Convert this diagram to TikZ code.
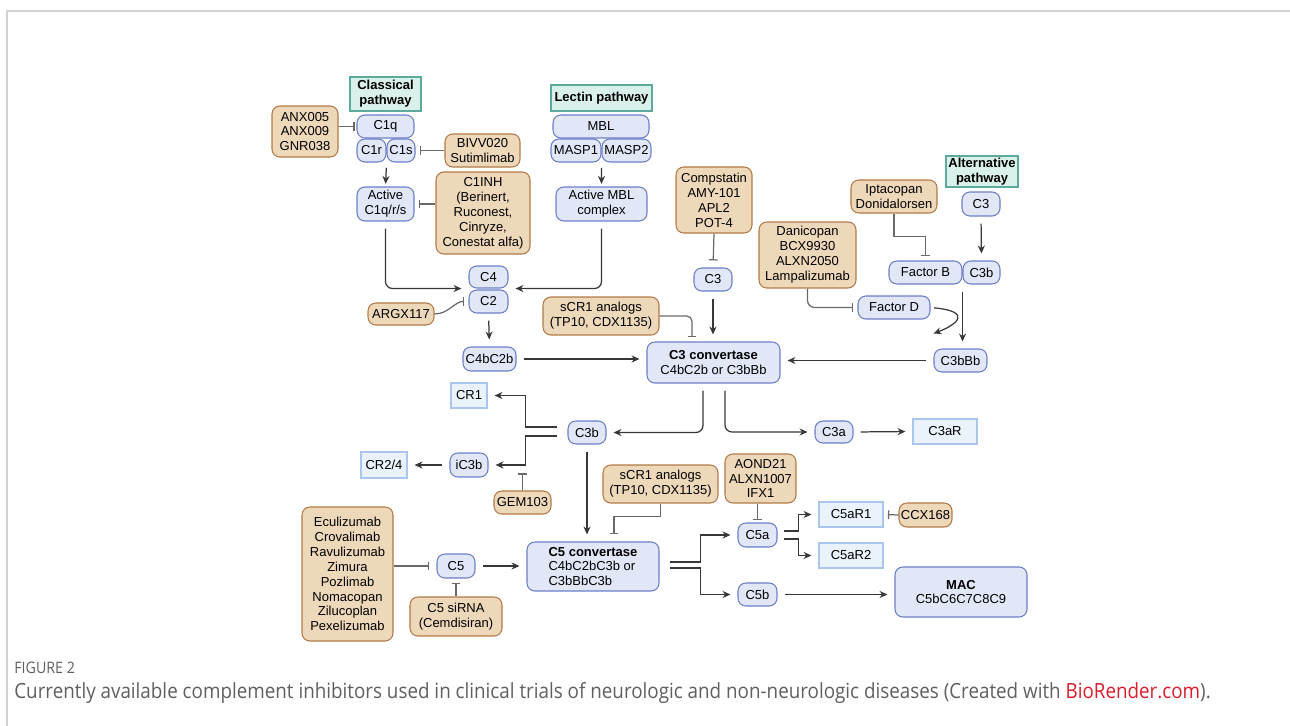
\documentclass[tikz,border=0pt]{standalone}
\usepackage{fontspec}
\setmainfont{Liberation Sans}
\newfontfamily\capfont[FakeStretch=0.9]{Open Sans}
\usepackage{tikz}
\usetikzlibrary{arrows.meta, calc}
\definecolor{cfill}{RGB}{226,231,248}
\definecolor{cedge}{RGB}{108,126,200}
\definecolor{dfill}{RGB}{238,216,186}
\definecolor{dedge}{RGB}{178,122,72}
\definecolor{pfill}{RGB}{218,240,234}
\definecolor{pedge}{RGB}{92,170,156}
\definecolor{rfill}{RGB}{234,242,252}
\definecolor{redge}{RGB}{170,198,238}
\definecolor{lgray}{RGB}{55,55,55}
\definecolor{igray}{RGB}{105,105,105}
\definecolor{capgray}{RGB}{95,95,95}
\definecolor{biored}{RGB}{215,30,45}
\newcommand{\nodefont}{\fontsize{7.4}{8.5}\selectfont}
\tikzset{
>={Stealth[length=4.5pt,width=4pt]}, % small filled arrow heads
sz/.style 2 args={minimum width=#1*0.02cm, minimum height=#2*0.02cm}, % box size in pixels
cnode/.style={draw=cedge, fill=cfill, rounded corners=4.5pt, line width=0.6pt, align=center, inner sep=1pt, font=\nodefont}, % complement proteins
drug/.style={draw=dedge, fill=dfill, rounded corners=4.5pt, line width=0.6pt, align=center, inner sep=1pt, font=\nodefont}, % inhibitors
pathway/.style={draw=pedge, fill=pfill, line width=0.6pt, align=center, inner sep=1pt, font=\nodefont\bfseries}, % pathway headers
rcpt/.style={draw=redge, fill=rfill, line width=0.6pt, align=center, inner sep=1pt, font=\nodefont}, % receptors
arr/.style={->, draw=lgray, line width=0.7pt, shorten <=4pt, shorten >=4pt}, % activation
inh/.style={-{Bar[width=5pt]}, draw=igray, line width=0.7pt, shorten >=2.5pt}, % inhibition
}

\begin{document}
\begin{tikzpicture}[x=0.02cm, y=-0.02cm]
\useasboundingbox (0,0) rectangle (1290,726);
\draw[black!18, line width=1.1pt] (7,726) -- (7,11) -- (1290,11);

% pathway headers
\node[pathway, sz={71}{34}] (hdcl) at (385.5,94) {Classical\\pathway};
\node[pathway, sz={101}{26}] (hdle) at (601.5,98) {Lectin pathway};
\node[pathway, sz={72}{31}] (hdal) at (982,171.5) {Alternative\\pathway};

% classical and lectin
\node[cnode, sz={57}{23}] (c1q) at (385.5,126.5) {C1q};
\node[cnode, sz={29}{23}] (c1r) at (371.5,150.5) {C1r};
\node[cnode, sz={28}{23}] (c1s) at (401,150.5) {C1s};
\node[cnode, sz={57}{34}] (actc1) at (385.5,204) {Active\\C1q/r/s};
\node[cnode, sz={96}{23}] (mbl) at (601,126.5) {MBL};
\node[cnode, sz={50}{23}] (masp1) at (576,150.5) {MASP1};
\node[cnode, sz={49}{23}] (masp2) at (626.5,150.5) {MASP2};
\node[cnode, sz={91}{34}] (actmbl) at (601.5,204) {Active MBL\\complex};
\node[cnode, sz={39}{22}] (c4) at (488.5,277) {C4};
\node[cnode, sz={39}{23}] (c2) at (488.5,301.5) {C2};
\node[cnode, sz={53}{24}] (c4bc2b) at (489.5,359) {C4bC2b};

% alternative
\node[cnode, sz={38}{23}] (c3top) at (713,279.5) {C3};
\node[cnode, sz={38}{24}] (c3alt) at (981,204) {C3};
\node[cnode, sz={73}{23}] (fb) at (925.5,272.5) {Factor B};
\node[cnode, sz={37}{23}] (c3balt) at (981.5,272.5) {C3b};
\node[cnode, sz={72}{23}] (fd) at (894,307.5) {Factor D};
\node[cnode, sz={53}{23}] (c3bbb) at (960.5,360.5) {C3bBb};

% convertases and products
\node[cnode, sz={133}{41}] (c3conv) at (713.5,362.5) {\textbf{C3 convertase}\\C4bC2b or C3bBb};
\node[cnode, sz={38}{23}] (c3b) at (587,432.5) {C3b};
\node[cnode, sz={38}{24}] (ic3b) at (469,465) {iC3b};
\node[cnode, sz={38}{22}] (c3a) at (834,432) {C3a};
\node[cnode, sz={38}{24}] (c5) at (456,566) {C5};
\node[cnode, sz={132}{49}, align=left] (c5conv) at (593,566.5) {\textbf{C5 convertase}\\C4bC2bC3b or\\C3bBbC3b};
\node[cnode, sz={39}{24}] (c5a) at (757.5,535) {C5a};
\node[cnode, sz={39}{23}] (c5b) at (757.5,594.5) {C5b};
\node[cnode, sz={132}{50}] (mac) at (961,592) {\textbf{MAC}\\C5bC6C7C8C9};

% receptors
\node[rcpt, sz={36}{25}] (cr1) at (469,395.5) {CR1};
\node[rcpt, sz={46}{26}] (cr24) at (384,465) {CR2/4};
\node[rcpt, sz={64}{25}] (c3ar) at (945,431.5) {C3aR};
\node[rcpt, sz={64}{25}] (c5ar1) at (851,514.5) {C5aR1};
\node[rcpt, sz={64}{25}] (c5ar2) at (851,555.5) {C5aR2};

% inhibitors
\node[drug, sz={66}{51}] (anx) at (305,131.5) {ANX005\\ANX009\\GNR038};
\node[drug, sz={75}{33}] (bivv) at (482.5,150.5) {BIVV020\\Sutimlimab};
\node[drug, sz={94}{82}] (c1inh) at (483,213) {C1INH\\(Berinert,\\Ruconest,\\Cinryze,\\Conestat alfa)};
\node[drug, sz={76}{66}] (compst) at (714,200) {Compstatin\\AMY-101\\APL2\\POT-4};
\node[drug, sz={86}{33}] (ipta) at (894,196.5) {Iptacopan\\Donidalorsen};
\node[drug, sz={97}{66}] (dani) at (807.5,255) {Danicopan\\BCX9930\\ALXN2050\\Lampalizumab};
\node[drug, sz={66}{22}] (argx) at (401,314) {ARGX117};
\node[drug, sz={116}{38}] (scra) at (601,316) {sCR1 analogs\\(TP10, CDX1135)};
\node[drug, sz={57}{23}] (gem) at (522.5,502.5) {GEM103};
\node[drug, sz={115}{38}] (scrb) at (660.5,484) {sCR1 analogs\\(TP10, CDX1135)};
\node[drug, sz={71}{49}] (aond) at (760.5,478.5) {AOND21\\ALXN1007\\IFX1};
\node[drug, sz={53}{24}] (ccx) at (925.5,515) {CCX168};
\node[drug, sz={91}{134}] (ecu) at (347.5,574) {Eculizumab\\Crovalimab\\Ravulizumab\\Zimura\\Pozlimab\\Nomacopan\\Zilucoplan\\Pexelizumab};
\node[drug, sz={92}{39}] (sirna) at (456,616.5) {C5 siRNA\\(Cemdisiran)};

% split points and free ends
\coordinate (c3bup) at ($(c3b.west)+(-10,-5.5)$);
\coordinate (c3bdn) at ($(c3b.west)+(-10,3.5)$);
\coordinate (c5cup) at ($(c5conv.east)+(10,-4.5)$);
\coordinate (c5cdn) at ($(c5conv.east)+(10,1.5)$);
\coordinate (c5aup) at ($(c5a.east)+(6,-4)$);
\coordinate (c5adn) at ($(c5a.east)+(6,4)$);
\coordinate (fdend) at ($(fd.east)+(3,26)$);

% activation
\draw[arr, shorten <=3pt, shorten >=1.5pt] (c1r.south east) -- (actc1.north);
\draw[arr, shorten <=3pt, shorten >=1.5pt] (masp1.south east) -- (actmbl.north);
\draw[arr, rounded corners=4pt] (actc1.south) |- (c4.south west);
\draw[arr, rounded corners=4pt] (actmbl.south) |- (c4.south east);
\draw[arr] (c2.south) -- (c4bc2b.north);
\draw[arr] (c4bc2b.east) -- (c4bc2b.east -| c3conv.west);
\draw[arr] (c3top.south) -- (c3top.south |- c3conv.north);
\draw[arr] (c3alt.south) -- (c3balt.north);
\draw[arr] (fb.south east) -- (fb.south east |- c3bbb.north);
\draw[arr, shorten <=2pt, shorten >=0pt] (fd.east) .. controls +(42,4) and +(24,-9) .. (fdend);
\draw[arr] (c3bbb.west) -- (c3bbb.west -| c3conv.east);
\draw[arr, rounded corners=4pt] ($(c3conv.south)+(-10.5,0)$) |- (c3b.east);
\draw[arr, rounded corners=4pt] ($(c3conv.south)+(11.5,0)$) |- (c3a.west);
\draw[arr] (c3a.east) -- (c3ar.west);
\draw[arr, shorten <=0pt] (c3bup) -- ++(-32,0) |- (cr1.east);
\draw[arr, shorten <=0pt] (c3bdn) -- ++(-32,0) |- (ic3b.east);
\draw[arr] (ic3b.west) -- (cr24.east);
\draw[arr] (c3b.south) -- (c3b.south |- c5conv.north);
\draw[arr] (c5.east) -- (c5.east -| c5conv.west);
\draw[arr, shorten <=0pt] (c5cup) -- ++(31,0) |- (c5a.west);
\draw[arr, shorten <=0pt] (c5cdn) -- ++(31,0) |- (c5b.west);
\draw[arr, shorten <=0pt] (c5aup) -- ++(15,0) |- (c5ar1.west);
\draw[arr, shorten <=0pt] (c5adn) -- ++(15,0) |- (c5ar2.west);
\draw[arr] (c5b.east) -- (c5b.east -| mac.west);

% inhibition
\draw[inh, shorten >=1pt] (c1q.west -| anx.east) -- (c1q.west);
\draw[inh] (bivv.west) -- (bivv.west -| c1s.east);
\draw[inh] (c1inh.west |- actc1.east) -- (actc1.east);
\draw[inh] (argx.east) .. controls +(14,0) and +(-14,0) .. (c2.west);
\draw[inh, shorten >=4pt] (compst.south) -- (c3top.north);
\draw[inh, rounded corners=3pt] (scra.east) -| ($(c3conv.north)+(-21.5,0)$);
\draw[inh] (ipta.south) -- ++(0,23) -| (fb.north);
\draw[inh, rounded corners=4pt] (dani.south) |- (fd.west);
\draw[inh, shorten >=0pt] (gem.north) -- ++(0,-17);
\draw[inh, shorten >=4pt] (scrb.south) -- ++(0,13) -| ($(c5conv.north)+(21,0)$);
\draw[inh, shorten >=1.5pt] (c5a.north |- aond.south) -- (c5a.north);
\draw[inh] (ccx.west) -- (c5ar1.east);
\draw[inh, shorten >=4pt] (ecu.east |- c5.west) -- (c5.west);
\draw[inh] (sirna.north) -- (c5.south);

% caption
\node[anchor=west, inner sep=0, text=capgray, font=\capfont\fontsize{9}{10}\selectfont] (fignum) at (14,668) {FIGURE 2};
\node[anchor=west, inner sep=0, text=capgray, font=\capfont\fontsize{11.9}{14}\selectfont] (figcap) at (14,693) {Currently available complement inhibitors used in clinical trials of neurologic and non-neurologic diseases (Created with \textcolor{biored}{BioRender.com}).};
\end{tikzpicture}
\end{document}
